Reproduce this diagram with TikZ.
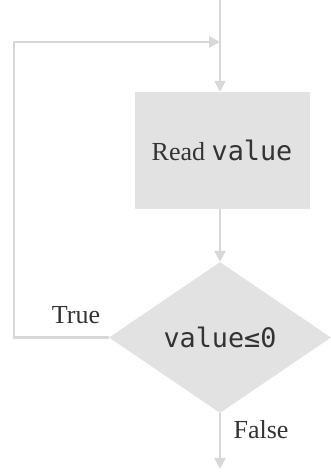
\documentclass[tikz,border=0pt]{standalone}
\usepackage{fontspec}
\setmainfont{Liberation Serif}
\setmonofont{DejaVu Sans Mono}[Scale=1.03]
\usetikzlibrary{shapes.geometric,arrows.meta}
\definecolor{linegray}{HTML}{D8D8D8}
\definecolor{boxgray}{HTML}{E2E2E2}
\definecolor{textgray}{HTML}{333333}
\tikzset{
  flow/.style={draw=linegray,line width=2.5pt,-{Triangle[length=11pt,width=11pt]}},
  plain/.style={draw=linegray,line width=2.5pt}
}

\begin{document}
\begin{tikzpicture}[x=1pt,y=1pt,text=textgray,font=\fontsize{26}{30}\selectfont]
\useasboundingbox (0,0) rectangle (331,472);
\coordinate (top) at (220,472);
\coordinate (join) at (220,430);
\coordinate (left) at (14,430);
\coordinate (bottom) at (220,3);
\node[fill=boxgray,minimum width=175pt,minimum height=117pt,inner sep=0pt] (read) at (222,321.5) {Read \texttt{value}};
\node[diamond,fill=boxgray,minimum width=222pt,minimum height=151pt,inner sep=0pt] (test) at (220,134.5) {\texttt{value≤0}};
\node (true) at (76,157) {True};
\node (false) at (261,42) {False};
\draw[plain] (top) -- (join);
\draw[flow] (join) -- (top |- read.north);
\draw[flow] (top |- read.south) -- (test.north);
\draw[flow] (test.west) -- (left |- test.west) -- (left) -- (join);
\draw[flow] (test.south) -- (bottom);
\end{tikzpicture}
\end{document}
